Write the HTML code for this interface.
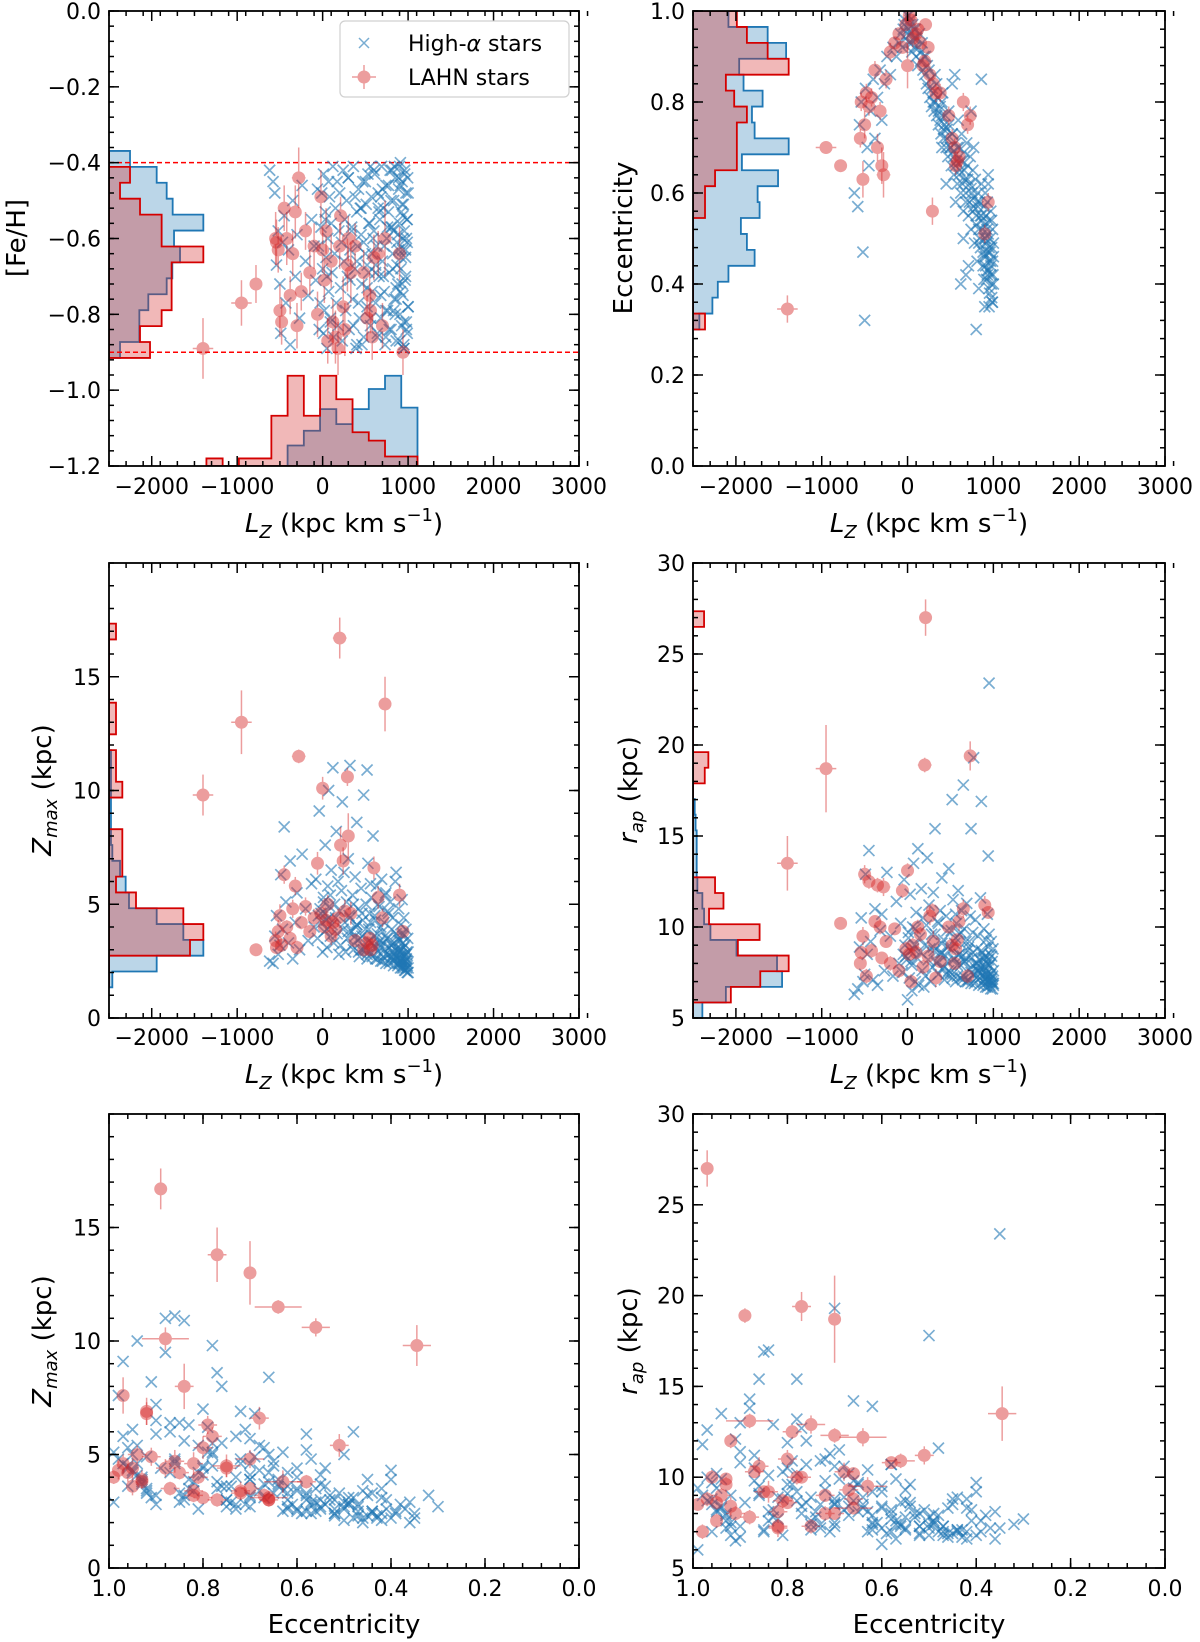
<!DOCTYPE html>
<html><head><meta charset="utf-8"><style>
html,body{margin:0;padding:0;background:#fff;}
svg{display:block;font-family:"DejaVu Sans","Liberation Sans",sans-serif;}
</style></head><body>
<svg id="chart" width="1200" height="1642" viewBox="0 0 1200 1642" xmlns="http://www.w3.org/2000/svg"></svg>
<script>
// ---------- blue (High-alpha) stars ----------
const blueLz = [-620,-580,-560,-540,-520,-500,-490,-470,-450,-430,-400,-380,-350,-320,-300,-270,-240,-200,-170,-130,
-100,-80,-60,-40,-20,0,10,20,30,40,50,60,70,80,90,100,110,120,130,140,150,160,170,180,190,
200,210,220,230,240,250,260,270,280,290,300,310,320,340,350,360,380,390,400,410,420,430,450,460,470,480,500,510,520,530,540,550,560,570,580,590,400,450,520,560,
600,610,620,630,640,650,660,670,680,690,700,710,720,730,740,750,760,770,780,790,800,810,820,830,840,850,860,870,880,890,
900,905,910,915,920,925,930,935,940,945,950,955,960,965,970,975,980,985,990,995,1000,620,680,740,800,860,900,940,980,650,710,770,830,890,950,
300,320,340,360,380,400,420,440,460,480,500,520,540,560,580,600,620,640,660,680,700,720,740,760,780,800,820,840,860,880,900,910,920,930,940,950,960,970,980,990,1000,1000,990,970,950,930,910,890,870,850,830,810,-50,-30,-10,10,30,50,70,90];
const blueFeh = [-0.42,-0.45,-0.48,-0.67,-0.58,-0.72,-0.85,-0.61,-0.54,-0.77,-0.63,-0.88,-0.50,-0.70,-0.59,-0.81,-0.46,-0.66,-0.75,-0.55,
-0.62,-0.71,-0.47,-0.84,-0.57,-0.68,-0.43,-0.79,-0.53,-0.65,-0.89,-0.60,-0.74,-0.49,-0.82,-0.56,-0.69,-0.41,-0.86,-0.64,-0.52,-0.77,-0.45,-0.83,-0.58,
-0.48,-0.73,-0.61,-0.87,-0.42,-0.66,-0.55,-0.79,-0.50,-0.70,-0.44,-0.84,-0.63,-0.57,-0.76,-0.41,-0.68,-0.89,-0.53,-0.62,-0.47,-0.81,-0.59,-0.72,-0.45,-0.86,-0.64,-0.51,-0.78,-0.43,-0.69,-0.56,-0.83,-0.49,-0.74,-0.60,-0.88,-0.52,-0.67,-0.41,
-0.58,-0.43,-0.77,-0.62,-0.85,-0.48,-0.70,-0.55,-0.81,-0.41,-0.66,-0.52,-0.74,-0.88,-0.46,-0.60,-0.79,-0.53,-0.69,-0.42,-0.84,-0.57,-0.64,-0.50,-0.76,-0.44,-0.87,-0.61,-0.72,-0.47,
-0.56,-0.80,-0.40,-0.68,-0.53,-0.83,-0.45,-0.63,-0.75,-0.51,-0.89,-0.58,-0.42,-0.71,-0.65,-0.48,-0.82,-0.55,-0.61,-0.44,-0.78,-0.67,-0.49,-0.86,-0.57,-0.73,-0.41,-0.60,-0.84,-0.52,-0.70,-0.46,-0.79,-0.63,-0.88,
-0.44,-0.71,-0.58,-0.83,-0.49,-0.66,-0.77,-0.52,-0.88,-0.61,-0.45,-0.73,-0.56,-0.81,-0.64,-0.42,-0.69,-0.86,-0.53,-0.75,-0.47,-0.62,-0.79,-0.57,-0.84,-0.50,-0.68,-0.41,-0.76,-0.59,-0.87,-0.46,-0.65,-0.72,-0.54,-0.82,-0.43,-0.70,-0.60,-0.85,-0.48,-0.78,-0.55,-0.63,-0.89,-0.51,-0.74,-0.44,-0.67,-0.80,-0.58,-0.42,-0.62,-0.77,-0.48,-0.85,-0.55,-0.70,-0.45,-0.81];
const blueEcc = [0.60,0.57,0.75,0.80,0.47,0.32,0.83,0.70,0.66,0.78,0.85,0.72,0.81,0.87,0.76,0.84,0.90,0.86,0.92,0.90,
0.93,0.95,0.92,0.97,0.94,0.99,0.96,0.93,0.98,0.95,0.91,0.97,0.94,0.92,0.96,0.90,0.94,0.88,0.92,0.95,0.89,0.91,0.93,0.87,0.90,
0.86,0.90,0.84,0.88,0.83,0.87,0.81,0.85,0.79,0.83,0.80,0.78,0.86,0.77,0.81,0.75,0.79,0.73,0.77,0.82,0.72,0.75,0.70,0.74,0.68,0.78,0.70,0.66,0.73,0.69,0.64,0.86,0.71,0.67,0.62,0.76,0.70,0.62,0.84,0.58,
0.70,0.65,0.60,0.73,0.67,0.56,0.69,0.63,0.58,0.71,0.66,0.55,0.62,0.68,0.52,0.60,0.65,0.57,0.49,0.63,0.55,0.45,0.60,0.52,0.58,0.48,0.62,0.54,0.44,0.57,
0.50,0.60,0.46,0.55,0.41,0.52,0.58,0.47,0.64,0.43,0.54,0.38,0.50,0.45,0.56,0.40,0.48,0.36,0.52,0.42,0.46,0.40,0.42,0.78,0.30,0.85,0.35,0.62,0.54,0.50,0.44,0.70,0.39,0.41,0.35,
0.82,0.80,0.84,0.78,0.76,0.80,0.74,0.77,0.72,0.75,0.70,0.73,0.68,0.66,0.70,0.64,0.67,0.62,0.65,0.60,0.63,0.58,0.61,0.56,0.59,0.53,0.57,0.50,0.55,0.47,0.53,0.44,0.49,0.43,0.51,0.39,0.47,0.42,0.37,0.45,0.40,0.49,0.36,0.44,0.48,0.42,0.50,0.46,0.52,0.55,0.49,0.58,0.96,0.98,0.95,0.99,0.97,0.93,0.96,0.94];
const blueZmax = [2.5,2.4,3.6,4.5,2.8,3.2,6.3,3.9,8.4,5.1,3.3,6.9,2.6,4.2,5.5,3.0,7.2,4.8,3.4,5.9,
4.0,6.1,3.5,9.1,4.6,2.9,5.3,3.8,7.6,4.3,3.1,5.8,10.0,4.9,3.6,6.5,4.1,11.0,3.3,5.0,4.4,8.2,3.7,6.0,2.8,
4.7,3.2,5.6,9.5,3.9,6.4,4.2,2.9,5.1,3.5,7.0,4.5,11.1,3.8,5.4,3.0,6.2,4.0,8.6,3.4,4.8,2.7,5.7,3.6,4.3,9.8,3.1,5.0,2.6,6.8,3.9,4.6,2.8,5.3,3.3,8.0,4.1,3.0,10.9,5.9,
3.2,4.5,2.6,5.8,3.7,2.9,4.9,3.4,2.5,6.1,3.8,2.7,4.2,5.4,2.4,3.5,4.7,2.8,3.1,5.1,2.6,3.9,4.4,2.3,3.3,6.0,2.7,3.6,2.4,4.8,
2.9,3.4,2.2,4.1,2.6,3.0,5.2,2.5,3.7,2.3,4.4,2.8,2.1,3.2,2.5,3.9,2.2,2.9,2.4,3.5,2.0,4.3,3.1,5.5,2.7,6.4,2.4,3.6,2.8,5.0,3.3,4.6,2.5,3.0,2.2,
3.8,4.4,3.2,5.0,3.6,4.1,2.9,3.5,4.6,3.0,3.9,2.8,3.4,4.2,2.7,3.6,3.1,2.6,3.3,4.0,2.5,3.0,2.8,3.5,2.4,3.2,2.9,2.6,3.7,2.3,3.0,2.5,2.8,2.2,3.3,2.4,2.7,2.1,2.6,2.3,2.2,2.9,2.0,2.5,3.1,2.4,2.7,3.4,2.6,3.0,2.8,3.2,4.5,4.8,4.2,5.1,4.6,3.9,4.4,5.4];
const blueRap = [6.3,6.6,8.9,10.5,7.0,7.4,12.9,8.5,14.2,9.2,7.1,11.0,6.8,9.8,10.7,7.6,13.0,9.5,7.3,11.4,
8.0,10.2,7.5,12.6,8.4,6.0,9.7,7.2,11.8,8.1,6.5,10.0,13.5,9.0,7.0,10.8,8.3,14.3,6.8,9.4,8.6,12.1,7.6,10.5,6.7,
9.0,7.3,10.1,13.8,8.2,11.2,8.8,7.0,9.6,7.8,11.9,8.7,15.4,8.0,10.3,7.4,10.9,8.5,12.7,7.7,9.3,7.1,10.6,8.1,8.9,13.2,7.5,9.8,7.2,11.5,8.3,9.1,7.0,10.2,7.9,12.0,8.6,7.4,17.0,10.7,
8.5,9.6,7.2,10.9,8.4,7.3,9.9,8.1,7.0,11.3,8.7,7.1,9.2,10.6,6.9,8.3,9.7,7.4,8.0,10.4,7.2,8.8,9.5,6.8,8.2,11.6,7.5,8.6,7.0,9.9,
7.8,8.4,6.7,9.3,7.6,8.0,10.7,7.3,8.9,7.1,9.6,7.9,6.8,8.5,7.4,9.2,7.0,8.1,7.3,8.8,6.9,9.7,8.3,15.4,7.7,16.9,7.2,13.9,8.4,17.8,8.9,19.3,7.6,8.2,23.4,
8.9,9.6,8.1,10.2,8.6,9.1,7.8,8.4,9.8,7.6,8.8,7.4,8.2,9.4,7.3,8.5,7.9,7.1,8.1,9.2,7.0,7.7,7.5,8.6,6.9,8.0,7.6,7.2,8.7,6.8,7.8,7.1,7.4,6.7,8.2,7.0,7.3,6.6,7.2,6.9,6.8,7.6,6.6,7.1,7.9,7.0,7.4,8.3,7.3,7.8,7.5,8.0,8.5,9.0,8.2,9.4,8.7,7.9,8.8,9.9];

// ---------- red (LAHN) stars ----------
const redLz   = [-1400,-950,-780,200,210,730,-280,0,290,-550,-520,-500,-480,-450,-420,-380,-350,-320,-300,-250,-200,-150,-100,-60,-20,20,40,60,100,120,150,180,240,260,300,330,380,480,520,550,580,560,600,650,900,940,700,-540];
const redFeh  = [-0.89,-0.77,-0.72,-0.62,-0.54,-0.60,-0.44,-0.63,-0.67,-0.60,-0.63,-0.79,-0.82,-0.52,-0.60,-0.75,-0.64,-0.53,-0.83,-0.74,-0.58,-0.69,-0.62,-0.80,-0.49,-0.71,-0.58,-0.87,-0.66,-0.82,-0.86,-0.89,-0.78,-0.84,-0.60,-0.69,-0.62,-0.69,-0.81,-0.75,-0.86,-0.79,-0.65,-0.64,-0.64,-0.90,-0.83,-0.61];
const redEcc  = [0.345,0.70,0.66,0.89,0.97,0.77,0.64,0.88,0.56,0.72,0.63,0.75,0.82,0.79,0.81,0.87,0.70,0.78,0.66,0.85,0.91,0.93,0.95,0.92,0.97,0.99,0.98,0.94,0.95,0.96,0.93,0.88,0.92,0.86,0.84,0.82,0.82,0.77,0.72,0.70,0.67,0.66,0.68,0.80,0.51,0.58,0.75,0.80];
const redZmax = [9.8,13.0,3.0,16.7,7.6,13.8,11.5,10.1,10.6,3.4,3.8,4.5,3.2,6.3,4.0,3.5,4.8,5.8,3.1,4.2,4.9,3.8,4.4,6.8,4.6,4.0,4.3,5.0,3.6,4.2,3.9,4.4,6.9,4.7,8.0,4.6,3.4,3.0,3.3,3.5,3.2,3.0,6.6,5.3,5.4,3.8,4.4,3.1];
const redRap  = [13.5,18.7,10.2,18.9,27.0,19.4,12.2,13.1,10.9,8.0,9.5,12.9,7.3,12.5,8.7,10.3,12.3,10.0,8.3,9.2,8.0,9.9,7.6,12.0,8.8,8.5,7.0,9.0,8.6,10.0,9.6,7.8,8.4,10.6,9.2,7.2,8.1,10.0,9.0,8.0,9.3,8.8,10.3,11.0,11.2,10.8,7.3,8.6];
const redLzErr   = [120,120,40,80,40,50,80,60,60,40,40,40,30,30,30,30,30,30,30,30,30,30,30,30,30,30,30,30,30,30,30,30,30,30,30,30,30,30,30,30,30,30,30,30,30,20,30,30];
const redFehErr  = [0.08,0.06,0.05,0.06,0.05,0.10,0.08,0.06,0.07,0.07,0.06,0.07,0.06,0.06,0.07,0.05,0.06,0.07,0.06,0.05,0.05,0.06,0.06,0.06,0.07,0.06,0.06,0.06,0.07,0.06,0.07,0.07,0.08,0.07,0.06,0.08,0.06,0.06,0.06,0.06,0.06,0.06,0.06,0.06,0.07,0.06,0.06,0.06];
const redEccErr  = [0.03,0.01,0.01,0.01,0.01,0.02,0.05,0.05,0.03,0.02,0.04,0.03,0.02,0.02,0.02,0.02,0.03,0.02,0.04,0.02,0.02,0.01,0.01,0.01,0.01,0.01,0.01,0.02,0.01,0.01,0.01,0.02,0.01,0.02,0.02,0.02,0.02,0.02,0.02,0.02,0.02,0.02,0.02,0.02,0.02,0.02,0.02,0.02];
const redZmaxErr = [0.9,1.4,0.2,0.9,0.8,1.2,0.3,0.5,0.4,0.4,0.5,0.5,0.3,0.4,0.3,0.3,0.4,0.4,0.3,0.3,0.4,0.3,0.4,0.5,0.4,0.3,0.4,0.4,0.4,0.4,0.4,0.4,0.6,0.5,1.0,0.5,0.3,0.3,0.3,0.3,0.3,0.3,0.5,0.5,0.5,0.3,0.4,0.3];
const redRapErr  = [1.5,2.4,0.3,0.4,1.0,0.8,0.5,0.4,0.4,0.4,0.5,0.5,0.4,0.4,0.4,0.3,0.4,0.4,0.3,0.3,0.4,0.3,0.4,0.4,0.4,0.3,0.4,0.4,0.4,0.4,0.4,0.4,0.5,0.5,0.6,0.5,0.3,0.3,0.3,0.3,0.3,0.3,0.5,0.5,0.5,0.3,0.4,0.3];

// ---------- marginal histograms (bin start, bin width, extent in Lz units) ----------
const fehHistStart = -0.915, fehHistWidth = 0.042;
const fehHistBlue = [-2371,-2145,-2145,-2040,-1825,-1759,-1669,-1739,-1396,-1755,-1825,-1942,-2254];
const fehHistRed  = [-2020,-2137,-1884,-1767,-1767,-1767,-1396,-1884,-1884,-2137,-2371,-2254,-2500];
const lzHistStart = -1360, lzHistWidth = 190;
const lzHistBlue = [-1.2,-1.2,-1.2,-1.2,-1.2,-1.146,-1.107,-1.05,-1.0895,-1.05,-0.997,-0.962,-1.046];
const lzHistRed  = [-1.18,-1.2,-1.18,-1.18,-1.0675,-0.962,-1.0675,-0.962,-1.024,-1.111,-1.133,-1.175,-1.175];
const eccHistStart = 0.3, eccHistWidth = 0.035;
const eccHistBlue = [-2426,-2274,-2211,-2087,-1782,-1872,-1942,-1724,-1747,-1509,-1930,-1385,-1782,-1813,-1689,-1911,-1962,-1415,-1630,-2087];
const eccHistRed  = [-2360,-2500,-2500,-2500,-2500,-2500,-2500,-2360,-2360,-2243,-1989,-1989,-1989,-1872,-2020,-2117,-1385,-1630,-1872,-1989];
const zmaxHistStart = 1.35, zmaxHistWidth = 0.695;
const zmaxHistBlue = [-2461,-1942,-1396,-1630,-1942,-2266,-2305,-2371,-2461,-2477,-2477,-2477,-2477,-2477,-2477,-2500,-2500,-2500,-2500,-2500,-2500,-2500,-2500];
const zmaxHistRed  = [-2500,-2500,-1552,-1396,-1630,-2184,-2418,-2344,-2344,-2344,-2500,-2500,-2344,-2418,-2418,-2500,-2418,-2418,-2500,-2500,-2500,-2500,-2418];
const rapHistStart = 4.99, rapHistWidth = 0.86;
const rapHistBlue = [-2391,-2117,-1462,-1521,-1993,-2297,-2371,-2391,-2449,-2457,-2457,-2457,-2470,-2480,-2500,-2500,-2500,-2500,-2500,-2500,-2500,-2500,-2500,-2500,-2500,-2500];
const rapHistRed  = [-2500,-2059,-1716,-1385,-1977,-1724,-2313,-2145,-2243,-2500,-2500,-2500,-2500,-2500,-2500,-2363,-2321,-2500,-2500,-2500,-2500,-2500,-2500,-2500,-2500,-2371];

// ---------- ticks ----------
const lzTicks = [-2000,-1000,0,1000,2000,3000];
const lzTickLabels = ["−2000","−1000","0","1000","2000","3000"];
const fehTicks = [0,-0.2,-0.4,-0.6,-0.8,-1.0,-1.2];
const fehTickLabels = ["0.0","−0.2","−0.4","−0.6","−0.8","−1.0","−1.2"];
const eccTicks = [0,0.2,0.4,0.6,0.8,1.0];
const eccTickLabels = ["0.0","0.2","0.4","0.6","0.8","1.0"];
const zmaxTicks = [0,5,10,15];
const zmaxTickLabels = ["0","5","10","15"];
const rapTicks = [5,10,15,20,25,30];
const rapTickLabels = ["5","10","15","20","25","30"];

const NS = 'http://www.w3.org/2000/svg';
const svg = document.getElementById('chart');
const BLUE = '#1f77b4', RED = '#d62728', HRED = '#d40000';
function add(parent, tag, attrs, text) {
  const e = document.createElementNS(NS, tag);
  for (const k in attrs) e.setAttribute(k, attrs[k]);
  if (text !== undefined) e.textContent = text;
  parent.appendChild(e);
  return e;
}
function scale(d0, d1, r0, r1) { return v => r0 + (v - d0) / (d1 - d0) * (r1 - r0); }

const panels = [
  {id:'feh-vs-lz', x0:109,x1:579,y0:11,y1:466, xd:[-2500,3000], yd:[-1.2,0]},
  {id:'ecc-vs-lz', x0:693,x1:1165,y0:11,y1:466, xd:[-2500,3000], yd:[0,1]},
  {id:'zmax-vs-lz', x0:109,x1:579,y0:563,y1:1018, xd:[-2500,3000], yd:[0,20]},
  {id:'rap-vs-lz', x0:693,x1:1165,y0:563,y1:1018, xd:[-2500,3000], yd:[5,30]},
  {id:'zmax-vs-ecc', x0:109,x1:579,y0:1114,y1:1568, xd:[1,0], yd:[0,20]},
  {id:'rap-vs-ecc', x0:693,x1:1165,y0:1114,y1:1568, xd:[1,0], yd:[5,30]}
];
const defs = add(svg, 'defs', {});
panels.forEach((p, i) => {
  p.sx = scale(p.xd[0], p.xd[1], p.x0, p.x1);
  p.sy = scale(p.yd[0], p.yd[1], p.y1, p.y0);
  const cp = add(defs, 'clipPath', {id: 'clip' + i});
  add(cp, 'rect', {x: p.x0, y: p.y0, width: p.x1 - p.x0, height: p.y1 - p.y0});
  p.g = add(svg, 'g', {'clip-path': 'url(#clip' + i + ')'});
  
  
});

function hHist(p, start, width, vals, color, fill, name) {
  let d = 'M' + p.sx(-2500) + ',' + p.sy(start);
  vals.forEach((v, k) => {
    const a = start + k * width, b = a + width;
    d += ' L' + p.sx(v) + ',' + p.sy(a) + ' L' + p.sx(v) + ',' + p.sy(b);
  });
  d += ' L' + p.sx(-2500) + ',' + p.sy(start + vals.length * width) + ' Z';
  const e = add(p.g, 'path', {d: d, fill: fill, stroke: color, 'stroke-width': 1.8});
  
  
}
function vHist(p, start, width, vals, color, fill, name) {
  const base = p.yd[0];
  let d = 'M' + p.sx(start) + ',' + p.sy(base);
  vals.forEach((v, k) => {
    const a = start + k * width, b = a + width;
    d += ' L' + p.sx(a) + ',' + p.sy(v) + ' L' + p.sx(b) + ',' + p.sy(v);
  });
  d += ' L' + p.sx(start + vals.length * width) + ',' + p.sy(base) + ' Z';
  const e = add(p.g, 'path', {d: d, fill: fill, stroke: color, 'stroke-width': 1.8});
  
  
}
const BF = 'rgba(31,119,180,0.3)', RF = 'rgba(214,39,40,0.33)';
hHist(panels[0], fehHistStart, fehHistWidth, fehHistBlue, BLUE, BF, 'feh-histogram-high-alpha');
hHist(panels[0], fehHistStart, fehHistWidth, fehHistRed, HRED, RF, 'feh-histogram-lahn');
vHist(panels[0], lzHistStart, lzHistWidth, lzHistBlue, BLUE, BF, 'lz-histogram-high-alpha');
vHist(panels[0], lzHistStart, lzHistWidth, lzHistRed, HRED, RF, 'lz-histogram-lahn');
hHist(panels[1], eccHistStart, eccHistWidth, eccHistBlue, BLUE, BF, 'ecc-histogram-high-alpha');
hHist(panels[1], eccHistStart, eccHistWidth, eccHistRed, HRED, RF, 'ecc-histogram-lahn');
hHist(panels[2], zmaxHistStart, zmaxHistWidth, zmaxHistBlue, BLUE, BF, 'zmax-histogram-high-alpha');
hHist(panels[2], zmaxHistStart, zmaxHistWidth, zmaxHistRed, HRED, RF, 'zmax-histogram-lahn');
hHist(panels[3], rapHistStart, rapHistWidth, rapHistBlue, BLUE, BF, 'rap-histogram-high-alpha');
hHist(panels[3], rapHistStart, rapHistWidth, rapHistRed, HRED, RF, 'rap-histogram-lahn');

[-0.4, -0.9].forEach(v => {
  const p = panels[0];
  const l = add(p.g, 'line', {x1: p.x0, x2: p.x1, y1: p.sy(v), y2: p.sy(v), stroke: '#ff0000', 'stroke-width': 1.5, 'stroke-dasharray': '5,3'});
  
  
});

function blueCross(p, xv, yv) {
  const x = p.sx(xv), y = p.sy(yv), s = 5.5;
  const e = add(p.g, 'path', {d: `M${x-s},${y-s}L${x+s},${y+s}M${x-s},${y+s}L${x+s},${y-s}`, stroke: BLUE, 'stroke-width': 1.7, 'stroke-opacity': 0.6, fill: 'none'});
  
  
}
function redDot(p, xv, yv, xe, ye) {
  const x = p.sx(xv), y = p.sy(yv);
  const x1 = p.sx(xv - xe), x2 = p.sx(xv + xe), y1 = p.sy(yv - ye), y2 = p.sy(yv + ye);
  const g = add(p.g, 'g', {opacity: 0.45});
  
  
  add(g, 'line', {x1: x1, x2: x2, y1: y, y2: y, stroke: RED, 'stroke-width': 1.5});
  add(g, 'line', {x1: x, x2: x, y1: y1, y2: y2, stroke: RED, 'stroke-width': 1.5});
  add(g, 'circle', {cx: x, cy: y, r: 6.5, fill: RED});
}
const nb = Math.min(blueLz.length, blueFeh.length, blueEcc.length, blueZmax.length, blueRap.length);
for (let i = 0; i < nb; i++) {
  blueCross(panels[0], blueLz[i], blueFeh[i]);
  blueCross(panels[1], blueLz[i], blueEcc[i]);
  blueCross(panels[2], blueLz[i], blueZmax[i]);
  blueCross(panels[3], blueLz[i], blueRap[i]);
  blueCross(panels[4], blueEcc[i], blueZmax[i]);
  blueCross(panels[5], blueEcc[i], blueRap[i]);
}
const nr = redLz.length;
for (let i = 0; i < nr; i++) {
  redDot(panels[0], redLz[i], redFeh[i], redLzErr[i], redFehErr[i]);
  redDot(panels[1], redLz[i], redEcc[i], redLzErr[i], redEccErr[i]);
  redDot(panels[2], redLz[i], redZmax[i], redLzErr[i], redZmaxErr[i]);
  redDot(panels[3], redLz[i], redRap[i], redLzErr[i], redRapErr[i]);
  redDot(panels[4], redEcc[i], redZmax[i], redEccErr[i], redZmaxErr[i]);
  redDot(panels[5], redEcc[i], redRap[i], redEccErr[i], redRapErr[i]);
}

function range(a, b, st) { const r = []; const n = Math.round((b - a) / st); for (let k = 0; k <= n; k++) r.push(a + k * st); return r; }
function drawAxes(p, xt, xl, xMinorStep, yt, yl, yMinorStep, tickLabelY) {
  const ax = add(svg, 'g', {stroke: '#000', 'stroke-width': 1.5});
  
  
  const lo = Math.min(p.xd[0], p.xd[1]), hi = Math.max(p.xd[0], p.xd[1]);
  range(lo, hi, xMinorStep).forEach(v => {
    const x = p.sx(v);
    add(ax, 'line', {x1: x, x2: x, y1: p.y1, y2: p.y1 - 5});
    add(ax, 'line', {x1: x, x2: x, y1: p.y0, y2: p.y0 + 5});
  });
  xt.forEach(v => {
    const x = p.sx(v);
    add(ax, 'line', {x1: x, x2: x, y1: p.y1, y2: p.y1 - 10});
    add(ax, 'line', {x1: x, x2: x, y1: p.y0, y2: p.y0 + 10});
  });
  range(p.yd[0], p.yd[1], yMinorStep).forEach(v => {
    const y = p.sy(v);
    add(ax, 'line', {x1: p.x0, x2: p.x0 + 5, y1: y, y2: y});
    add(ax, 'line', {x1: p.x1, x2: p.x1 - 5, y1: y, y2: y});
  });
  yt.forEach(v => {
    const y = p.sy(v);
    add(ax, 'line', {x1: p.x0, x2: p.x0 + 10, y1: y, y2: y});
    add(ax, 'line', {x1: p.x1, x2: p.x1 - 10, y1: y, y2: y});
  });
  const fr = add(svg, 'rect', {x: p.x0, y: p.y0, width: p.x1 - p.x0, height: p.y1 - p.y0, fill: 'none', stroke: '#000', 'stroke-width': 1.8});
  
  
  xt.forEach((v, k) => {
    const t = add(svg, 'text', {x: p.sx(v), y: tickLabelY, 'text-anchor': 'middle', 'font-size': 22}, xl[k]);
    
    
  });
  yt.forEach((v, k) => {
    const t = add(svg, 'text', {x: p.x0 - 8, y: p.sy(v) + 8, 'text-anchor': 'end', 'font-size': 22}, yl[k]);
    
    
  });
}
drawAxes(panels[0], lzTicks, lzTickLabels, 200, fehTicks, fehTickLabels, 0.04, 494);
drawAxes(panels[1], lzTicks, lzTickLabels, 200, eccTicks, eccTickLabels, 0.04, 494);
drawAxes(panels[2], lzTicks, lzTickLabels, 200, zmaxTicks, zmaxTickLabels, 1, 1045);
drawAxes(panels[3], lzTicks, lzTickLabels, 200, rapTicks, rapTickLabels, 1, 1045);
drawAxes(panels[4], eccTicks, eccTickLabels, 0.04, zmaxTicks, zmaxTickLabels, 1, 1596);
drawAxes(panels[5], eccTicks, eccTickLabels, 0.04, rapTicks, rapTickLabels, 1, 1596);
</script>
<div style="position:absolute;left:0;top:0;width:1200px;height:1642px;pointer-events:none;">
<svg width="1200" height="1642" style="position:absolute;left:0;top:0;font-family:'DejaVu Sans','Liberation Sans',sans-serif;">
  <text x="344" y="532" text-anchor="middle" font-size="26"><tspan font-style="italic">L</tspan><tspan font-style="italic" font-size="18" dy="6">Z</tspan><tspan dy="-6"> (kpc km s</tspan><tspan font-size="18" dy="-11">−1</tspan><tspan dy="11">)</tspan></text>
  <text x="929" y="532" text-anchor="middle" font-size="26"><tspan font-style="italic">L</tspan><tspan font-style="italic" font-size="18" dy="6">Z</tspan><tspan dy="-6"> (kpc km s</tspan><tspan font-size="18" dy="-11">−1</tspan><tspan dy="11">)</tspan></text>
  <text x="344" y="1083" text-anchor="middle" font-size="26"><tspan font-style="italic">L</tspan><tspan font-style="italic" font-size="18" dy="6">Z</tspan><tspan dy="-6"> (kpc km s</tspan><tspan font-size="18" dy="-11">−1</tspan><tspan dy="11">)</tspan></text>
  <text x="929" y="1083" text-anchor="middle" font-size="26"><tspan font-style="italic">L</tspan><tspan font-style="italic" font-size="18" dy="6">Z</tspan><tspan dy="-6"> (kpc km s</tspan><tspan font-size="18" dy="-11">−1</tspan><tspan dy="11">)</tspan></text>
  <text x="344" y="1633" text-anchor="middle" font-size="26">Eccentricity</text>
  <text x="929" y="1633" text-anchor="middle" font-size="26">Eccentricity</text>
  <text transform="translate(25,238) rotate(-90)" text-anchor="middle" font-size="26">[Fe/H]</text>
  <text transform="translate(632,238) rotate(-90)" text-anchor="middle" font-size="26">Eccentricity</text>
  <text transform="translate(51,790) rotate(-90)" text-anchor="middle" font-size="26"><tspan font-style="italic">Z</tspan><tspan font-style="italic" font-size="18" dy="6">max</tspan><tspan dy="-6"> (kpc)</tspan></text>
  <text transform="translate(637,790) rotate(-90)" text-anchor="middle" font-size="26"><tspan font-style="italic">r</tspan><tspan font-style="italic" font-size="18" dy="6">ap</tspan><tspan dy="-6"> (kpc)</tspan></text>
  <text transform="translate(51,1341) rotate(-90)" text-anchor="middle" font-size="26"><tspan font-style="italic">Z</tspan><tspan font-style="italic" font-size="18" dy="6">max</tspan><tspan dy="-6"> (kpc)</tspan></text>
  <text transform="translate(637,1341) rotate(-90)" text-anchor="middle" font-size="26"><tspan font-style="italic">r</tspan><tspan font-style="italic" font-size="18" dy="6">ap</tspan><tspan dy="-6"> (kpc)</tspan></text>
  <g>
    <rect x="340" y="21" width="229" height="76" rx="5" fill="#fff" fill-opacity="0.85" stroke="#d0d0d0" stroke-width="1.2"/>
    <g>
      <path d="M359,38L369,48M359,48L369,38" stroke="#1f77b4" stroke-opacity="0.6" stroke-width="1.5"/>
      <text x="408" y="51" font-size="22">High-<tspan font-style="italic">α</tspan> stars</text>
    </g>
    <g opacity="0.45">
      <line x1="352" x2="376" y1="77" y2="77" stroke="#d62728" stroke-width="1.5"/>
      <line x1="364" x2="364" y1="65" y2="89" stroke="#d62728" stroke-width="1.5"/>
      <circle cx="364" cy="77" r="6.5" fill="#d62728"/>
    </g>
    <text x="408" y="85" font-size="22">LAHN stars</text>
  </g>
</svg>
</div>
</body></html>
